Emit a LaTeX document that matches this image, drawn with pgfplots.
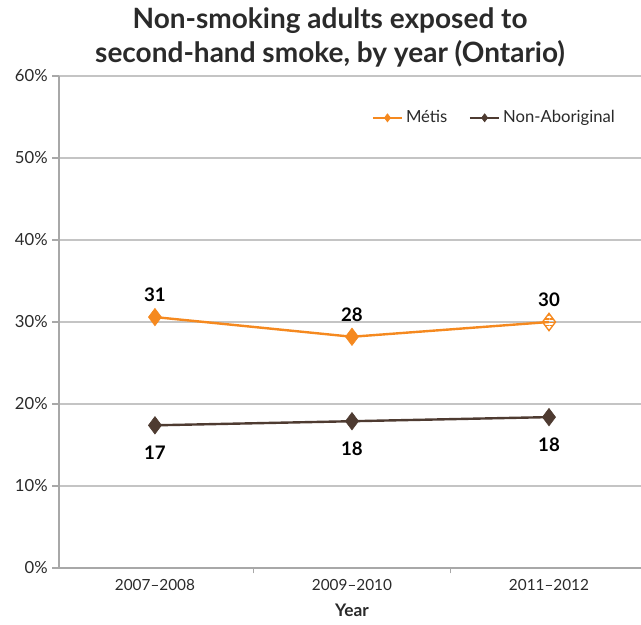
\documentclass[border=0pt]{standalone}
\usepackage{pgfplots}
\pgfplotsset{compat=1.18}
\usepackage{fontspec}
\setmainfont{Lato}
\usetikzlibrary{patterns.meta}
\definecolor{metis}{HTML}{F5891F}
\definecolor{nonab}{HTML}{4E3B31}
\definecolor{gridc}{HTML}{C4C4C4}
\definecolor{axc}{HTML}{A8A8A8}
\definecolor{txt}{HTML}{2A2A2A}
\begin{document}
\begin{tikzpicture}
\useasboundingbox (0,0) rectangle (480.75pt,468pt);
\begin{axis}[
  at={(44.25pt,42pt)}, anchor=south west,
  scale only axis, width=436.5pt, height=369pt,
  xmin=0.513, xmax=3.467, ymin=0, ymax=60,
  axis x line*=bottom, axis y line*=left,
  axis line style={draw=axc, line width=0.8pt},
  xtick={1,2,3}, xticklabels={2007–2008,2009–2010,2011–2012},
  ytick={0,10,20,30,40,50,60},
  yticklabels={0\%,10\%,20\%,30\%,40\%,50\%,60\%},
  ymajorgrids, grid style={draw=gridc, line width=0.8pt},
  major x tick style={draw=none},
  major y tick style={draw=axc, line width=0.8pt},
  tick align=outside, major tick length=5pt,
  extra x ticks={1.5,2.5}, extra x tick labels={},
  extra x tick style={grid=none, major tick length=4pt, major x tick style={draw=axc, line width=0.8pt}},
  x tick label style={font=\fontsize{11.5}{13}\selectfont, text=txt},
  y tick label style={font=\fontsize{12.5}{14}\selectfont, text=txt},
  every node near coord/.append style={font=\bfseries\fontsize{14}{16}\selectfont, text=black},
  legend style={at={(0.967,0.915)}, anchor=east, draw=none, fill=none,
    legend columns=2, font=\fontsize{12.5}{14}\selectfont, text=txt,
    /tikz/every even column/.append style={column sep=14pt}},
  legend image code/.code={
    \draw[#1, mark=none] (0pt,0pt) -- (22pt,0pt);
    \draw[#1, mark size=3pt, draw=none] plot coordinates {(11pt,0pt)};
  },
  clip=false,
]
\addplot[metis, line width=1.8pt, mark=diamond*, mark size=6.5pt, mark indices={1,2},
  mark options={fill=metis, draw=metis, line width=0.5pt},
  nodes near coords, point meta=explicit symbolic,
  nodes near coords align={above}, every node near coord/.append style={yshift=8pt}]
  coordinates {(1,30.6)[31] (2,28.2)[28] (3,30.0)[30]};
\addlegendentry{Métis}
\addplot[nonab, line width=1.8pt, mark=diamond*, mark size=6.5pt,
  mark options={fill=nonab, draw=nonab, line width=0.5pt},
  nodes near coords, point meta=explicit symbolic,
  nodes near coords align={below}, every node near coord/.append style={yshift=-12pt}]
  coordinates {(1,17.4)[17] (2,17.9)[18] (3,18.4)[18]};
\addlegendentry{Non-Aboriginal}
\addplot[forget plot, draw=none, mark=diamond*, mark size=6.5pt,
  mark options={draw=metis, line width=1pt, fill=white,
    pattern={Lines[angle=0, distance=2.6pt, line width=0.9pt]}, pattern color=metis},
  nodes near coords, point meta=explicit symbolic,
  nodes near coords align={above}, every node near coord/.append style={yshift=8pt}]
  coordinates {(3,30.0)[30]};
\end{axis}
\node[font=\bfseries\fontsize{21}{25}\selectfont, text=txt, align=center] at (247.5pt,440pt)
  {Non-smoking adults exposed to\\second-hand smoke, by year (Ontario)};
\node[font=\bfseries\fontsize{13}{15}\selectfont, text=txt] at (264pt,10.5pt) {Year};
\end{tikzpicture}
\end{document}
